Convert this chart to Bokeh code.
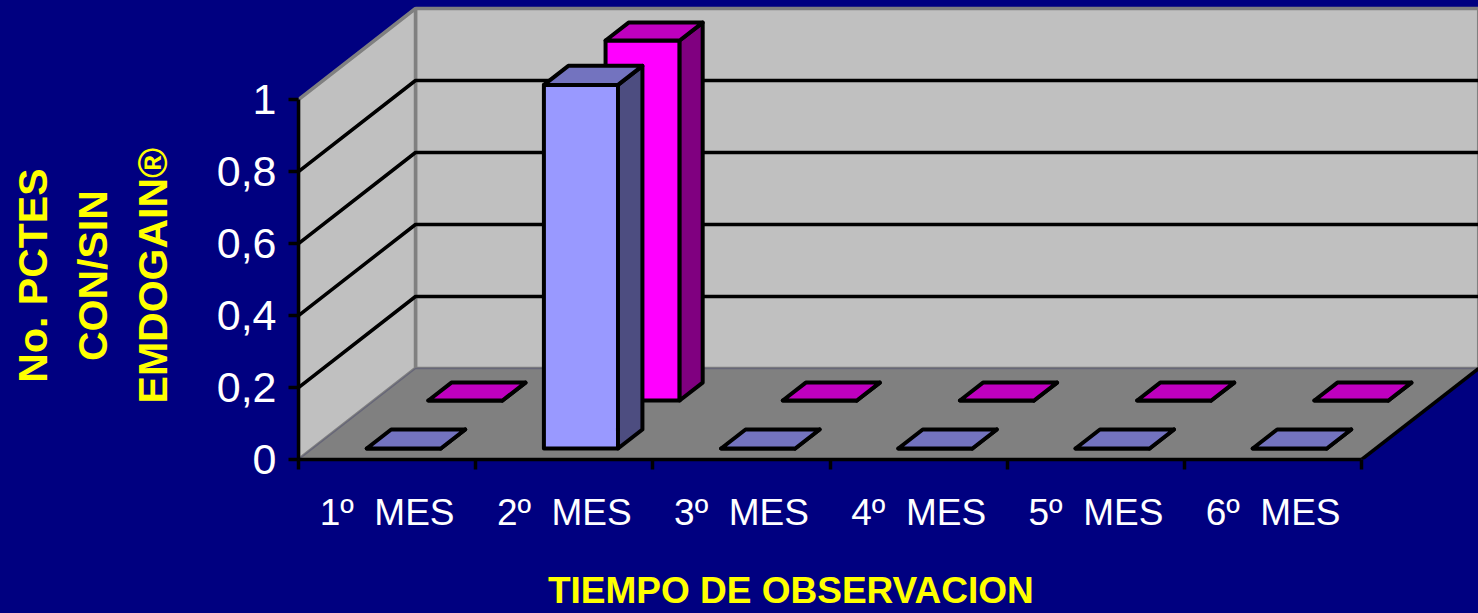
from bokeh.plotting import figure
from bokeh.models import Range1d, FixedTicker, LinearAxis
from bokeh.embed import file_html
from bokeh.resources import INLINE

categories = ["1º\u00a0\u00a0MES", "2º\u00a0\u00a0MES", "3º\u00a0\u00a0MES",
              "4º\u00a0\u00a0MES", "5º\u00a0\u00a0MES", "6º\u00a0\u00a0MES"]
con_emdogain = [0, 1.01, 0, 0, 0, 0]
sin_emdogain = [0, 1, 0, 0, 0, 0]
y_ticks = [0, 0.2, 0.4, 0.6, 0.8, 1]
y_tick_labels = ["0", "0,2", "0,4", "0,6", "0,8", "1"]
y_title_lines = ["No. PCTES", "CON/SIN", "EMDOGAIN®"]
x_title = "TIEMPO DE OBSERVACION"

W, H = 1478, 613
LEFT, BOTTOM = 298, 154
UX, UY = 177.2, 360.0          # pixels per category, per value unit
DX, DY = 117 / UX, 91 / UY     # oblique shift of the whole depth, in data units
NCAT = len(categories)
NBSP = "\u00a0"


def pr(c, v, z):
    return c + z * DX, v + z * DY


def poly(points):
    xs, ys = zip(*[pr(*q) for q in points])
    return list(xs), list(ys)


p = figure(width=W, height=H, output_backend="svg", toolbar_location=None,
           x_range=Range1d(0, (W - LEFT) / UX), y_range=Range1d(0, (H - BOTTOM) / UY),
           x_axis_location=None, y_axis_location=None,
           min_border_left=LEFT, min_border_right=0, min_border_top=0, min_border_bottom=BOTTOM,
           background_fill_color=None, border_fill_color="#000080", outline_line_color=None)
p.grid.visible = False
p.styles = {"position": "fixed", "left": "0", "top": "0", "background-color": "#000080"}

# walls and floor
GRAY, FLOOR = "#808080", "#808080"
for pts, fill in [([(0, 0, 1), (NCAT, 0, 1), (NCAT, 1, 1), (0, 1, 1)], "#C0C0C0"),
                  ([(0, 0, 0), (0, 0, 1), (0, 1, 1), (0, 1, 0)], "#C0C0C0")]:
    xs, ys = poly(pts)
    p.patch(xs, ys, fill_color=fill, line_color=GRAY, line_width=3.5)
xs, ys = poly([(0, 0, 0), (NCAT, 0, 0), (NCAT, 0, 1), (0, 0, 1)])
p.patch(xs, ys, fill_color=FLOOR, line_color=None)
xs, ys = poly([(0, 0, 0), (0, 0, 1), (NCAT, 0, 1)])
p.line(xs, ys, line_color="#666677", line_width=1.5)
xs, ys = poly([(NCAT, 0, 0), (NCAT, 0, 1)])
p.line(xs, ys, line_color="black", line_width=3.5)

# gridlines on both walls
gx, gy = [], []
for t in y_ticks[1:-1]:
    xs, ys = poly([(0, t, 0), (0, t, 1), (NCAT, t, 1)])
    gx.append(xs)
    gy.append(ys)
p.multi_line(gx, gy, line_color="black", line_width=3.5)

# bars
BAR_OFFSET, BAR_W = 0.305, 0.418


def bars(values, z0, z1, front, side, top):
    for i, v in enumerate(values):
        c0, c1 = i + BAR_OFFSET, i + BAR_OFFSET + BAR_W
        faces = [([(c0, 0, z0), (c1, 0, z0), (c1, v, z0), (c0, v, z0)], front),
                 ([(c1, 0, z0), (c1, 0, z1), (c1, v, z1), (c1, v, z0)], side),
                 ([(c0, v, z0), (c1, v, z0), (c1, v, z1), (c0, v, z1)], top)]
        for pts, fill in faces:
            xs, ys = poly(pts)
            p.patch(xs, ys, fill_color=fill, line_color="black", line_width=4, line_join="round")


bars(sin_emdogain, 0.648, 0.845, "#FF00FF", "#800080", "#BF00BF")
bars(con_emdogain, 0.121, 0.33, "#9999FF", "#4D4D80", "#7373BF")

# axes; axis titles are centred on the frame, so trailing spaces move them to their place
TITLE_STYLE = dict(axis_label_text_color="#FFFF00", axis_label_text_font="Liberation Sans",
                   axis_label_text_font_style="bold")
yax = LinearAxis(bounds=(0, 1), ticker=FixedTicker(ticks=y_ticks),
                 major_label_overrides={t: s for t, s in zip(y_ticks, y_tick_labels)},
                 axis_line_color="black", axis_line_width=3.5,
                 major_tick_line_color="black", major_tick_line_width=3.5,
                 major_tick_in=0, major_tick_out=10, minor_tick_line_color=None,
                 major_label_text_color="white", major_label_text_font="Liberation Sans",
                 major_label_text_font_size="43px", major_label_standoff=12,
                 axis_label="\n".join(s + NBSP * 8 for s in y_title_lines),
                 axis_label_text_font_size="41px", axis_label_text_line_height=1.3,
                 axis_label_standoff=38, **TITLE_STYLE)
p.add_layout(yax, "left")
centers = [i + 0.5 for i in range(NCAT)]
xax = LinearAxis(bounds=(0, NCAT), ticker=FixedTicker(ticks=centers, minor_ticks=list(range(NCAT + 1))),
                 major_label_overrides={c: s for c, s in zip(centers, categories)},
                 axis_line_color="black", axis_line_width=3.5,
                 major_tick_line_color=None, major_tick_in=0, major_tick_out=0,
                 minor_tick_line_color="black", minor_tick_line_width=3.5,
                 minor_tick_in=0, minor_tick_out=10,
                 major_label_text_color="white", major_label_text_font="Liberation Sans",
                 major_label_text_font_size="37px", major_label_standoff=22,
                 axis_label=x_title + NBSP * 19, axis_label_text_font_size="37px",
                 axis_label_text_line_height=1.0, axis_label_standoff=34, **TITLE_STYLE)
p.add_layout(xax, "below")

open("out.html", "w").write(file_html(p, INLINE))
